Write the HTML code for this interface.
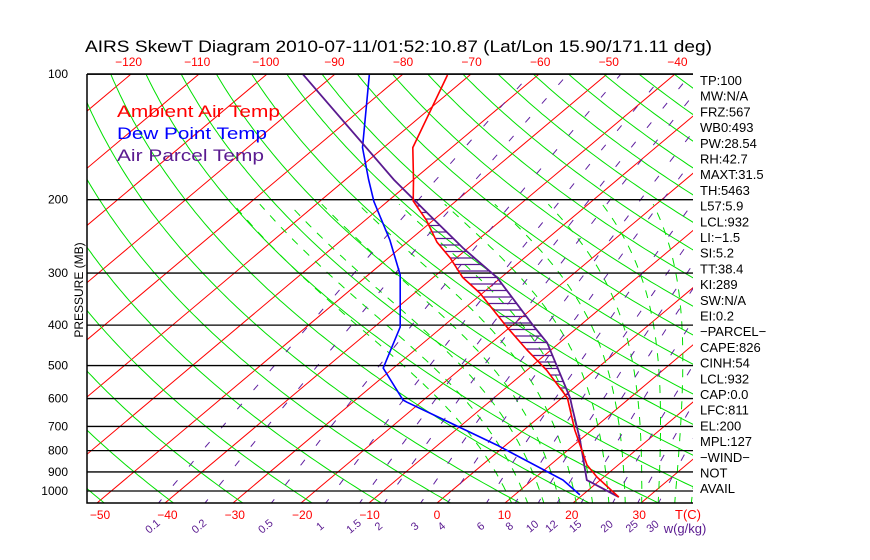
<!DOCTYPE html>
<html><head><meta charset="utf-8"><style>
html,body{margin:0;padding:0;background:#fff;}
svg{display:block;font-family:"Liberation Sans",sans-serif;}
</style></head><body>
<svg id="chart" width="870" height="560" viewBox="0 0 870 560" xmlns="http://www.w3.org/2000/svg">
<defs><clipPath id="plotclip"><rect x="87" y="74" width="606" height="429"/></clipPath></defs>
<rect width="870" height="560" fill="#fff"/>
<text x="85" y="52" font-size="17" textLength="627" lengthAdjust="spacingAndGlyphs" fill="#000">AIRS SkewT Diagram 2010-07-11/01:52:10.87 (Lat/Lon 15.90/171.11 deg)</text>
<g id="bg" clip-path="url(#plotclip)"></g>
<g id="data" clip-path="url(#plotclip)"></g>
<g id="axes"></g>
<g font-size="17">
<text x="117" y="117" fill="#ff0000" textLength="163" lengthAdjust="spacingAndGlyphs">Ambient Air Temp</text>
<text x="117" y="139" fill="#0000ff" textLength="150" lengthAdjust="spacingAndGlyphs">Dew Point Temp</text>
<text x="117" y="161" fill="#5a1a90" textLength="147" lengthAdjust="spacingAndGlyphs">Air Parcel Temp</text>
</g>
<g id="stats" font-size="13" fill="#000"></g>
<text transform="translate(83,290) rotate(-90)" text-anchor="middle" font-size="12" fill="#000">PRESSURE (MB)</text>
</svg>
<script>
// ---- data ----
const envP = [100.4,150,179,201.5,224,253,276,307,335,404,459,513,598,714,866,926,1034];
const envT = [-73.3,-65.7,-60.0,-56.3,-51.0,-45.6,-40.9,-35.7,-30.4,-20.5,-13.5,-7.1,0.8,7.5,15.4,19.0,25.7];
const dewP = [100.4,150,179,202,250,303,404,507,605,612,668,776,941,1022];
const dewT = [-84.8,-73.1,-66.6,-62.0,-52.9,-45.3,-36.2,-31.5,-23.0,-22.1,-14.4,-1.3,14.5,19.6];
const parP = [100,179,218,261,308,400,441,598,629,754,941,1034];
const parT = [-94.7,-62.9,-51.4,-40.8,-30.5,-17.0,-11.8,1.2,3.1,10.0,18.0,25.7];
const pressureTicks = [100,200,300,400,500,600,700,800,900,1000];
const bottomTicks = [-50,-40,-30,-20,-10,0,10,20,30];
const topTicks = [-120,-110,-100,-90,-80,-70,-60,-50,-40];
const mixRatios = [0.1,0.2,0.5,1,1.5,2,3,4,6,8,10,12,15,20,25,30];
const statLabels = ["TP:100","MW:N/A","FRZ:567","WB0:493","PW:28.54","RH:42.7","MAXT:31.5","TH:5463","L57:5.9","LCL:932","LI:\u22121.5","SI:5.2","TT:38.4","KI:289","SW:N/A","EI:0.2","\u2212PARCEL\u2212","CAPE:826","CINH:54","LCL:932","CAP:0.0","LFC:811","EL:200","MPL:127","\u2212WIND\u2212","NOT","AVAIL"];

// ---- scales ----
function Y(p){return 491 - 181*Math.log(1000/p);}
function X(T,p){return 437 + 6.8*T + 1.189*(503 - Y(p));}
function PfromY(y){return 1000*Math.exp(-(491-y)/181);}
const NS="http://www.w3.org/2000/svg";
function mk(tag,attrs,parent){const e=document.createElementNS(NS,tag);for(const k in attrs)e.setAttribute(k,attrs[k]);parent.appendChild(e);return e;}
const bg=document.getElementById('bg'), dg=document.getElementById('data'), ax=document.getElementById('axes'), st=document.getElementById('stats');
function pathFrom(pts){return pts.map((q,i)=>(i?'L':'M')+q[0].toFixed(1)+','+q[1].toFixed(1)).join('');}
const pLevels=[];for(let p=1080;p>=95;p*=0.98)pLevels.push(p);pLevels.push(95);

for(let T=-160;T<=50;T+=10){
  const e=mk('line',{x1:X(T,1080),y1:Y(1080),x2:X(T,95),y2:Y(95),stroke:'#ff0000','stroke-width':1},bg);
  
  
}
for(let th=200;th<=560;th+=10){
  const pts=pLevels.map(p=>[X(th*Math.pow(p/1000,0.2857)-273.15,p),Y(p)]);
  const e=mk('path',{d:pathFrom(pts),fill:'none',stroke:'#00e000','stroke-width':1},bg);
  
  
}
function es(T){return 6.112*Math.exp(17.67*T/(T+243.5));}
function ws(T,p){const e=es(T);return 0.622*e/(p-e);}
function step(T,p,dp){const w=ws(T-273.15,p);const Lv=2.5e6,Rd=287,cp=1005;
  const num=(Rd*T+Lv*w)/p;const den=cp+Lv*Lv*w*0.622/(Rd*T*T);return T+num/den*dp;}
for(let tw=8;tw<=42;tw+=2.5){
  let Td=tw+273.15,pd=1000;
  while(pd<1080){Td=step(Td,pd,5);pd+=5;}
  const pts=[];let Tc=Td,pc=pd;
  while(pc>200){pts.push([X(Tc-273.15,pc),Y(pc)]);Tc=step(Tc,pc,-5);pc-=5;}
  const e=mk('path',{d:pathFrom(pts),fill:'none',stroke:'#00e000','stroke-width':1,'stroke-dasharray':'8 8'},bg);
  
  
}
function TfromW(w,p){const e=w*p/(622+w);const l=Math.log(e/6.112);return 243.5*l/(17.67-l);}
mixRatios.forEach(w=>{
  const pts=[];for(let p=1080;p>=100;p-=10)pts.push([X(TfromW(w,p),p),Y(p)]);
  const e=mk('path',{d:pathFrom(pts),fill:'none',stroke:'#6020a0','stroke-width':1,'stroke-dasharray':'7 18'},bg);
  
  
  const lx=X(TfromW(w,1070),1070);
  const t=mk('text',{x:lx-6,y:530,'font-size':11,fill:'#5a1a90','text-anchor':'middle',transform:'rotate(-40 '+(lx-6)+' 526)'},ax);
  t.textContent=String(w);
  
  
});
pressureTicks.forEach(p=>{
  const e=mk('line',{x1:87,x2:693,y1:Y(p),y2:Y(p),stroke:'#000','stroke-width':1.3},bg);
  
  
  const t=mk('text',{x:68,y:Y(p)+4,'font-size':12,'text-anchor':'end',fill:'#000'},ax);
  t.textContent=String(p);
  
  
});
function interp(Ps,Ts,p){const lp=Math.log(p);for(let i=0;i<Ps.length-1;i++){const a=Math.log(Ps[i]),b=Math.log(Ps[i+1]);if(lp>=a&&lp<=b)return Ts[i]+(Ts[i+1]-Ts[i])*(lp-a)/(b-a);}return null;}
for(let y=206;y<=396;y+=6.5){
  const p=PfromY(y);const te=interp(envP,envT,p),tp=interp(parP,parT,p);
  if(te!==null&&tp!==null&&tp>te){
    const e=mk('line',{x1:X(te,p),x2:X(tp,p),y1:y,y2:y,stroke:'#5a1a90','stroke-width':1.2},dg);
    
    
  }
}
function profile(Ps,Ts,color,name,w){
  const e=mk('path',{d:pathFrom(Ps.map((p,i)=>[X(Ts[i],p),Y(p)])),fill:'none',stroke:color,'stroke-width':w},dg);
  
  
}
profile(dewP,dewT,'#0000ff','dew-point-line',1.6);
profile(parP,parT,'#5a1a90','parcel-line',1.8);
profile(envP,envT,'#ff0000','temperature-line',1.6);
const fr=mk('path',{d:'M87,74 L693,74 M87,74 L87,503 L693,503',fill:'none',stroke:'#000','stroke-width':1.5},ax);


bottomTicks.forEach(T=>{
  const t=mk('text',{x:437+6.74*T,y:519,'font-size':12,'text-anchor':'middle',fill:'#ff0000'},ax);
  t.textContent=T<0?'\u2212'+Math.abs(T):String(T);
  
  
});
topTicks.forEach(T=>{
  const t=mk('text',{x:403+6.86*(T+80),y:66,'font-size':12,'text-anchor':'middle',fill:'#ff0000'},ax);
  t.textContent='\u2212'+Math.abs(T);
  
  
});
const tc=mk('text',{x:688,y:519,'font-size':13,'text-anchor':'middle',fill:'#ff0000'},ax);
tc.textContent='T(C)';


const wl=mk('text',{x:685,y:533,'font-size':13,'text-anchor':'middle',fill:'#5a1a90'},ax);
wl.textContent='w(g/kg)';


statLabels.forEach((s,i)=>{
  const t=mk('text',{x:700,y:85+i*15.7},st);
  t.textContent=s;
  
  
});
</script>
</body></html>
